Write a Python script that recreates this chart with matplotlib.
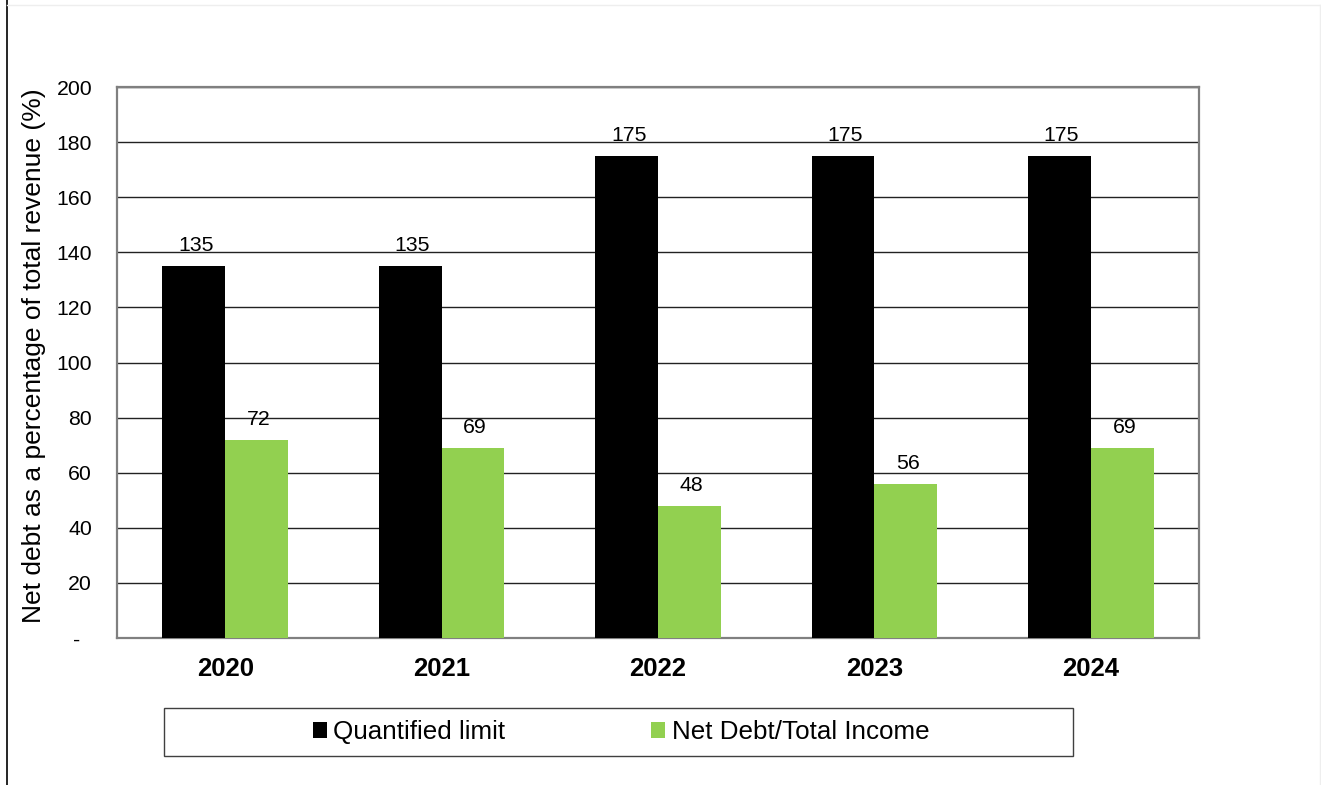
import matplotlib.pyplot as plt
import numpy as np
from matplotlib.lines import Line2D
from matplotlib.patches import Patch, Rectangle

plt.rcParams["font.family"] = ["Liberation Sans", "DejaVu Sans"]

years = ["2020", "2021", "2022", "2023", "2024"]
quantified_limit = [135, 135, 175, 175, 175]
net_debt_income = [72, 69, 48, 56, 69]
y_ticks = [0, 20, 40, 60, 80, 100, 120, 140, 160, 180, 200]
y_tick_labels = ["-  ", "20", "40", "60", "80", "100", "120", "140", "160", "180", "200"]

BLACK = "#000000"
GREEN = "#92d050"
FRAME = "#808080"

fig = plt.figure(figsize=(13.21, 7.85), dpi=100)
ax = fig.add_axes([117 / 1321, 1 - 638 / 785, (1199 - 117) / 1321, (638 - 87) / 785])

x = np.arange(len(years))
w = 0.29
b1 = ax.bar(x - w / 2, quantified_limit, w, color=BLACK, zorder=3)
b2 = ax.bar(x + w / 2, net_debt_income, w, color=GREEN, zorder=3)

for bars, vals in ((b1, quantified_limit), (b2, net_debt_income)):
    for rect, v in zip(bars, vals):
        ax.annotate(f"{v}", (rect.get_x() + rect.get_width() / 2, v),
                    xytext=(1.5, 8), textcoords="offset points",
                    ha="center", va="bottom", fontsize=15.3)

ax.set_xlim(-0.5, len(years) - 0.5)
ax.set_ylim(0, 200)
ax.set_yticks(y_ticks)
ax.set_yticklabels(y_tick_labels, fontsize=15.3)
ax.set_xticks(x)
ax.set_xticklabels(years, fontsize=18.5, fontweight="bold")
ax.tick_params(axis="both", length=0)
ax.tick_params(axis="y", pad=18)
ax.tick_params(axis="x", pad=14)
ax.yaxis.grid(True, color="#222222", linewidth=1.0, zorder=0)
ax.set_axisbelow(True)
for s in ax.spines.values():
    s.set_color(FRAME)
    s.set_linewidth(1.6)

ax.set_ylabel("Net debt as a percentage of total revenue (%)", fontsize=19)
ax.yaxis.set_label_coords((46 - 117) / (1199 - 117), 0.513)

# legend box spans a fixed width below the plot
fig.add_artist(Rectangle((164 / 1321, 1 - 756 / 785), (1073 - 164) / 1321, 48 / 785,
                         transform=fig.transFigure, facecolor="white",
                         edgecolor="#404040", linewidth=1.0))
handles = [Patch(facecolor=BLACK, label="Quantified limit"),
           Patch(facecolor=GREEN, label="Net Debt/Total Income")]
fig.legend(handles=handles, loc="center", bbox_to_anchor=(621 / 1321, 1 - 732 / 785),
           ncol=2, fontsize=18.7, frameon=False,
           handlelength=0.55, handleheight=0.55, handletextpad=0.25,
           columnspacing=5.6)

# outer chart-area border lines
fig.add_artist(Line2D([7 / 1321, 7 / 1321], [0, 1], color="#000000", linewidth=1.2))
fig.add_artist(Line2D([7 / 1321, 1], [1 - 5 / 785, 1 - 5 / 785], color="#eeeeee", linewidth=1.0))
fig.add_artist(Line2D([1320 / 1321, 1320 / 1321], [0, 1 - 5 / 785], color="#eeeeee", linewidth=1.0))

fig.savefig("out.png", dpi=100)
